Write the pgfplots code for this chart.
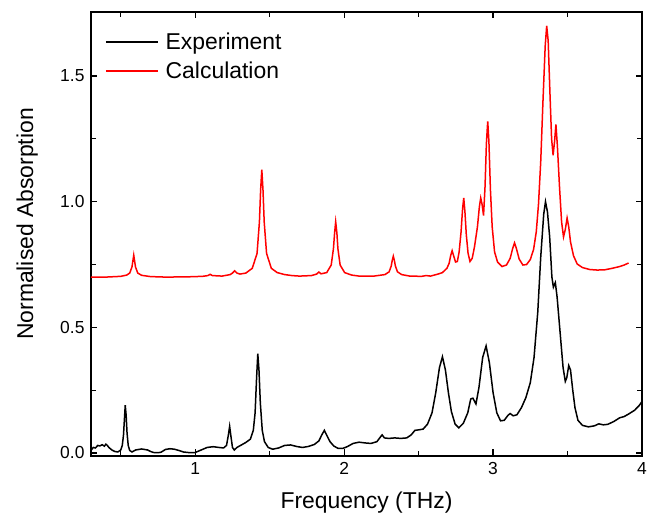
\documentclass[border=0pt]{standalone}
\usepackage{fontspec}
\setmainfont{Liberation Sans}
\usepackage{pgfplots}
\pgfplotsset{compat=1.18}
\begin{document}
\begin{tikzpicture}
\begin{axis}[
 name=ax, at={(0,0)}, anchor=south west,
 width=551bp, height=444bp, scale only axis,
 xmin=0.3, xmax=4, ymin=-0.012, ymax=1.755,
 xtick={1,2,3,4}, minor xtick={0.5,1.5,2.5,3.5},
 ytick={0,0.5,1,1.5}, minor ytick={0.25,0.75,1.25},
 yticklabel style={/pgf/number format/fixed, /pgf/number format/fixed zerofill, /pgf/number format/precision=1, xshift=-3bp},
 /pgf/number format/assume math mode=true,
 tick align=inside,
 major tick length=6.5bp, minor tick length=5bp,
 every tick/.style={black, line width=1.2bp},
 axis line style={line width=1.5bp},
 ticklabel style={font=\fontsize{17.5}{20}\selectfont},
 xticklabel style={yshift=-3bp},
 xlabel={Frequency (THz)}, ylabel={Normalised Absorption},
 label style={font=\fontsize{23}{27}\selectfont},
 xlabel style={at={(axis description cs:0.5,0)}, anchor=base, yshift=-52bp},
 ylabel style={at={(axis description cs:-0.105,0.5225)}, anchor=base},
 legend style={at={(axis description cs:0.02,0.962)}, anchor=north west, draw=none, fill=none,
   font=\fontsize{23}{27}\selectfont, row sep=7bp},
 legend cell align=left,
 legend image code/.code={\draw[#1] (0bp,0bp) -- (52bp,0bp); \path (57bp,0bp);},
]
\addplot[black, line width=1.5bp] coordinates {
(0.300,0.010)(0.315,0.022)(0.330,0.020)(0.345,0.030)(0.360,0.028)(0.375,0.033)(0.390,0.027)
(0.400,0.035)(0.410,0.030)(0.420,0.022)(0.440,0.012)(0.460,0.006)(0.480,0.004)(0.500,0.012)
(0.510,0.030)(0.518,0.070)(0.524,0.130)(0.530,0.190)(0.536,0.150)(0.542,0.080)(0.550,0.030)
(0.560,0.010)(0.575,0.004)(0.600,0.012)(0.620,0.014)(0.640,0.016)(0.660,0.014)(0.680,0.012)
(0.700,0.006)(0.720,0.002)(0.750,0.001)(0.770,0.003)(0.800,0.014)(0.830,0.017)(0.860,0.015)
(0.890,0.010)(0.920,0.004)(0.950,0.002)(0.980,0.001)(1.000,0.002)(1.040,0.012)(1.080,0.022)
(1.120,0.025)(1.160,0.022)(1.190,0.020)(1.210,0.030)(1.222,0.070)(1.231,0.106)(1.240,0.065)
(1.250,0.022)(1.262,0.012)(1.280,0.022)(1.310,0.032)(1.340,0.042)(1.370,0.055)(1.390,0.090)
(1.402,0.160)(1.412,0.300)(1.420,0.395)(1.428,0.330)(1.437,0.200)(1.450,0.090)(1.465,0.045)
(1.490,0.022)(1.520,0.015)(1.560,0.020)(1.600,0.030)(1.640,0.032)(1.680,0.026)(1.720,0.022)
(1.760,0.026)(1.800,0.034)(1.830,0.048)(1.850,0.072)(1.867,0.090)(1.885,0.068)(1.905,0.045)
(1.930,0.028)(1.960,0.018)(1.990,0.018)(2.020,0.025)(2.060,0.038)(2.100,0.043)(2.140,0.040)
(2.180,0.038)(2.220,0.045)(2.245,0.065)(2.255,0.072)(2.270,0.060)(2.300,0.058)(2.340,0.060)
(2.380,0.058)(2.420,0.060)(2.450,0.072)(2.475,0.090)(2.500,0.092)(2.530,0.095)(2.560,0.115)
(2.590,0.160)(2.615,0.240)(2.640,0.340)(2.660,0.383)(2.680,0.330)(2.700,0.240)(2.720,0.165)
(2.745,0.115)(2.770,0.100)(2.800,0.118)(2.830,0.160)(2.850,0.215)(2.865,0.218)(2.885,0.195)
(2.905,0.260)(2.930,0.380)(2.953,0.426)(2.975,0.360)(3.000,0.240)(3.025,0.160)(3.050,0.128)
(3.075,0.130)(3.100,0.150)(3.115,0.157)(3.135,0.148)(3.160,0.152)(3.190,0.180)(3.220,0.220)
(3.250,0.280)(3.275,0.380)(3.300,0.560)(3.320,0.780)(3.340,0.950)(3.352,1.000)(3.365,0.960)
(3.380,0.860)(3.395,0.700)(3.405,0.660)(3.418,0.678)(3.430,0.620)(3.450,0.480)(3.470,0.340)
(3.485,0.285)(3.495,0.300)(3.508,0.348)(3.520,0.330)(3.535,0.250)(3.550,0.180)(3.570,0.130)
(3.600,0.110)(3.640,0.104)(3.680,0.108)(3.710,0.116)(3.740,0.112)(3.770,0.114)(3.810,0.125)
(3.850,0.140)(3.880,0.145)(3.910,0.155)(3.950,0.170)(3.980,0.188)(4.000,0.205)
};
\addlegendentry{Experiment}
\addplot[red, line width=1.5bp] coordinates {
(0.300,0.700)(0.400,0.700)(0.500,0.703)(0.540,0.708)(0.560,0.716)(0.575,0.740)(0.587,0.787)
(0.599,0.740)(0.614,0.716)(0.640,0.707)(0.700,0.702)(0.800,0.700)(0.950,0.701)(1.050,0.703)
(1.085,0.706)(1.100,0.711)(1.115,0.706)(1.180,0.704)(1.235,0.710)(1.250,0.716)(1.265,0.725)
(1.280,0.716)(1.300,0.712)(1.340,0.716)(1.383,0.735)(1.415,0.794)(1.431,0.920)(1.439,1.046)
(1.447,1.128)(1.455,1.046)(1.463,0.920)(1.479,0.794)(1.511,0.735)(1.550,0.718)(1.600,0.710)
(1.650,0.706)(1.700,0.704)(1.780,0.706)(1.815,0.712)(1.830,0.720)(1.845,0.713)(1.883,0.718)
(1.913,0.748)(1.928,0.813)(1.936,0.877)(1.943,0.920)(1.951,0.877)(1.958,0.813)(1.973,0.748)
(2.003,0.718)(2.050,0.708)(2.100,0.704)(2.200,0.704)(2.274,0.710)(2.302,0.721)(2.316,0.744)
(2.323,0.767)(2.330,0.783)(2.337,0.767)(2.344,0.744)(2.358,0.721)(2.386,0.710)(2.440,0.704)
(2.520,0.703)(2.550,0.706)(2.580,0.704)(2.630,0.712)(2.660,0.718)(2.690,0.735)(2.705,0.755)
(2.715,0.785)(2.725,0.805)(2.735,0.785)(2.748,0.760)(2.760,0.762)(2.772,0.800)(2.785,0.880)
(2.795,0.970)(2.803,1.015)(2.811,0.960)(2.820,0.870)(2.832,0.795)(2.845,0.762)(2.860,0.775)
(2.875,0.820)(2.895,0.900)(2.908,0.980)(2.917,1.015)(2.926,0.990)(2.936,0.945)(2.946,1.060)
(2.955,1.230)(2.964,1.320)(2.972,1.240)(2.982,1.050)(2.994,0.900)(3.010,0.800)(3.030,0.760)
(3.060,0.742)(3.090,0.748)(3.115,0.775)(3.132,0.815)(3.144,0.836)(3.156,0.815)(3.175,0.772)
(3.200,0.748)(3.225,0.750)(3.250,0.770)(3.272,0.810)(3.290,0.880)(3.305,0.990)(3.320,1.160)
(3.335,1.400)(3.350,1.620)(3.360,1.700)(3.370,1.640)(3.382,1.430)(3.393,1.250)(3.403,1.185)
(3.413,1.240)(3.422,1.308)(3.432,1.220)(3.446,1.060)(3.460,0.920)(3.473,0.860)(3.485,0.890)
(3.497,0.935)(3.508,0.900)(3.520,0.840)(3.540,0.785)(3.565,0.752)(3.600,0.738)(3.650,0.730)
(3.700,0.728)(3.750,0.729)(3.800,0.735)(3.850,0.742)(3.880,0.748)(3.910,0.756)
};
\addlegendentry{Calculation}
\end{axis}
\pgfresetboundingbox
\path[use as bounding box] (-91bp,-63bp) rectangle (556bp,456bp);
\end{tikzpicture}
\end{document}
